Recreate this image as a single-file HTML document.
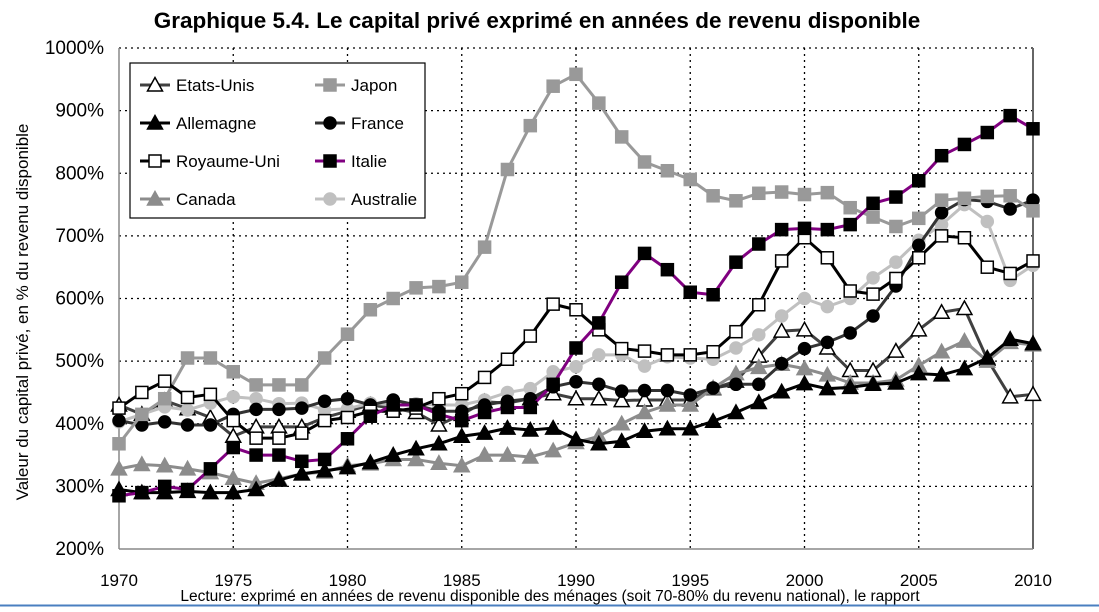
<!DOCTYPE html>
<html><head><meta charset="utf-8"><style>
body{margin:0;background:#fff;width:1099px;height:607px;overflow:hidden;font-family:"Liberation Sans",sans-serif}
svg text{font-family:"Liberation Sans",sans-serif}
</style></head><body>
<svg id="c" width="1099" height="607"></svg>
<script>
const years=[];for(let y=1970;y<=2010;y++)years.push(y);
const yTicks=[200,300,400,500,600,700,800,900,1000];
const xTicks=[1970,1975,1980,1985,1990,1995,2000,2005,2010];
const japon=[368,415,440,505,505,483,462,462,462,505,543,582,600,617,619,626,682,806,876,939,958,912,858,818,804,790,764,756,768,770,766,769,745,730,715,728,757,760,763,764,740];
const italie=[285,290,300,295,328,362,350,350,340,343,376,412,430,430,415,405,418,426,426,463,521,561,626,672,646,610,606,658,687,710,712,710,718,752,762,788,828,846,865,892,871];
const ru=[425,450,468,442,447,405,377,377,385,405,410,420,420,425,440,448,474,503,540,591,582,550,520,516,510,510,515,547,590,660,697,665,612,607,632,665,700,697,650,640,660];
const france=[405,398,403,398,398,415,423,423,425,436,440,430,438,430,420,420,430,436,440,459,467,463,452,453,453,446,457,463,463,496,520,530,545,572,620,685,737,758,755,743,757];
const australie=[403,415,427,422,433,443,440,432,433,422,424,433,430,432,430,430,438,450,456,483,491,510,510,492,507,505,503,521,542,572,600,587,600,633,658,693,718,750,723,629,653];
const usa=[430,415,437,424,410,380,395,395,395,410,420,430,425,418,398,415,435,433,440,448,440,440,437,438,438,438,456,468,508,548,550,521,485,485,516,550,578,584,503,443,447];
const allemagne=[295,290,290,292,290,290,295,310,320,325,330,338,350,360,368,380,385,393,390,393,375,368,372,388,392,392,404,418,434,451,464,456,458,463,465,480,478,488,505,535,528];
const canada=[328,335,333,328,322,313,305,312,320,323,333,336,343,343,337,333,350,350,347,357,370,380,400,418,430,430,457,480,490,495,488,478,465,465,470,493,515,532,500,530,526];
const S=[
 {n:"Etats-Unis",d:usa,line:"#404040",m:"tri",fill:"#fff",stroke:"#000"},
 {n:"Canada",d:canada,line:"#8c8c8c",m:"tri",fill:"#8c8c8c",stroke:"#8c8c8c"},
 {n:"Allemagne",d:allemagne,line:"#000",m:"tri",fill:"#000",stroke:"#000"},
 {n:"Australie",d:australie,line:"#c0c0c0",m:"cir",fill:"#c0c0c0",stroke:"#c0c0c0"},
 {n:"France",d:france,line:"#333",m:"cir",fill:"#000",stroke:"#000"},
 {n:"Japon",d:japon,line:"#999",m:"sq",fill:"#999",stroke:"#999"},
 {n:"Royaume-Uni",d:ru,line:"#000",m:"sq",fill:"#fff",stroke:"#000"},
 {n:"Italie",d:italie,line:"#800080",m:"sq",fill:"#000",stroke:"#000"}];
const L=119,R=1033,T=48,B=549;
const X=y=>L+(y-1970)*(R-L)/40, Y=v=>B-(v-200)*(B-T)/800;
const svg=document.getElementById('c');const NS="http://www.w3.org/2000/svg";
function el(t,a,p){const e=document.createElementNS(NS,t);for(const k in a)e.setAttribute(k,a[k]);(p||svg).appendChild(e);return e;}
function txt(s,a,p){const e=el('text',a,p);e.textContent=s;return e;}
const grid=el('g',{});
yTicks.forEach(v=>{if(v>200)el('line',{x1:L,x2:R,y1:Y(v),y2:Y(v),stroke:'#000','stroke-dasharray':'2,4','stroke-width':1.3},grid);
 const t=txt(v+'%',{x:104,y:Y(v)+6,'text-anchor':'end','font-size':19});});
xTicks.forEach(v=>{if(v>1970&&v<2010)el('line',{x1:X(v),x2:X(v),y1:T,y2:B,stroke:'#000','stroke-dasharray':'2,4','stroke-width':1.3},grid);
 const t=txt(v,{x:X(v),y:586,'text-anchor':'middle','font-size':17});});
el('line',{x1:L,x2:L,y1:T,y2:B,stroke:'#888','stroke-width':1.5});
el('line',{x1:R,x2:R,y1:T,y2:B,stroke:'#666','stroke-width':2});
el('line',{x1:L,x2:R,y1:B,y2:B,stroke:'#888','stroke-width':1.5});
function marker(m,x,y,f,s,g){
 if(m==='sq')return el('rect',{x:x-6,y:y-6,width:12,height:12,fill:f,stroke:s,'stroke-width':1.5},g);
 if(m==='cir')return el('circle',{cx:x,cy:y,r:6,fill:f,stroke:s,'stroke-width':1.5},g);
 return el('polygon',{points:`${x},${y-7.5} ${x-7.5},${y+6} ${x+7.5},${y+6}`,fill:f,stroke:s,'stroke-width':1.5},g);
}
S.forEach(s=>{const g=el('g',{});
 el('polyline',{points:s.d.map((v,i)=>X(years[i])+','+Y(v)).join(' '),fill:'none',stroke:s.line,'stroke-width':3},g);
 s.d.forEach((v,i)=>{const m=marker(s.m,X(years[i]),Y(v),s.fill,s.stroke,g);});});
const lg=el('g',{});
el('rect',{x:130,y:63,width:295,height:155,fill:'#fff',stroke:'#000','stroke-width':1.2},lg);
const order=["Etats-Unis","Japon","Allemagne","France","Royaume-Uni","Italie","Canada","Australie"];
order.forEach((n,i)=>{const s=S.find(q=>q.n===n);const col=i%2,row=Math.floor(i/2);const x0=col?315:140,y0=85+row*38;
 const g=el('g',{},lg);
 el('line',{x1:x0,x2:x0+30,y1:y0,y2:y0,stroke:s.line,'stroke-width':3},g);marker(s.m,x0+15,y0,s.fill,s.stroke,g);
 txt(n,{x:x0+36,y:y0+6,'font-size':17},g);});
const t1=txt('Graphique 5.4. Le capital privé exprimé en années de revenu disponible',{x:537,y:28,'text-anchor':'middle','font-size':22.5,'font-weight':'bold'});

const t2=txt('Valeur du capital privé, en % du revenu disponible',{x:0,y:0,'text-anchor':'middle','font-size':17,transform:'translate(28,312) rotate(-90)'});

const t3=txt('Lecture: exprimé en années de revenu disponible des ménages (soit 70-80% du revenu national), le rapport',{x:550,y:601,'text-anchor':'middle','font-size':15.5});

el('line',{x1:0,x2:1099,y1:605.5,y2:605.5,stroke:'#4a7fc0','stroke-width':2});
</script></body></html>
